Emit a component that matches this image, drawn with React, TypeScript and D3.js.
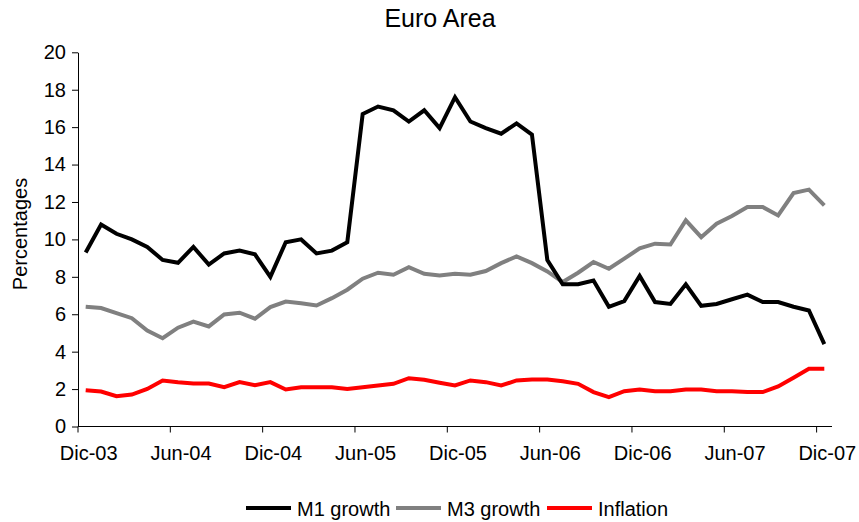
import React, { useEffect, useRef } from 'react';
import * as d3 from 'd3';

// Monthly categories Dic-03 .. Dic-07
const months = [
  'Dic-03', 'Ene-04', 'Feb-04', 'Mar-04', 'Abr-04', 'May-04', 'Jun-04', 'Jul-04', 'Ago-04', 'Sep-04', 'Oct-04', 'Nov-04',
  'Dic-04', 'Ene-05', 'Feb-05', 'Mar-05', 'Abr-05', 'May-05', 'Jun-05', 'Jul-05', 'Ago-05', 'Sep-05', 'Oct-05', 'Nov-05',
  'Dic-05', 'Ene-06', 'Feb-06', 'Mar-06', 'Abr-06', 'May-06', 'Jun-06', 'Jul-06', 'Ago-06', 'Sep-06', 'Oct-06', 'Nov-06',
  'Dic-06', 'Ene-07', 'Feb-07', 'Mar-07', 'Abr-07', 'May-07', 'Jun-07', 'Jul-07', 'Ago-07', 'Sep-07', 'Oct-07', 'Nov-07',
  'Dic-07',
];

const tickLabels = ['Dic-03', 'Jun-04', 'Dic-04', 'Jun-05', 'Dic-05', 'Jun-06', 'Dic-06', 'Jun-07', 'Dic-07'];
const yTicks = [0, 2, 4, 6, 8, 10, 12, 14, 16, 18, 20];

const m1Growth = [
  9.3, 10.8, 10.3, 10.0, 9.6, 8.9, 8.75, 9.6, 8.65, 9.25, 9.4, 9.2,
  8.0, 9.85, 10.0, 9.25, 9.4, 9.85, 16.7, 17.1, 16.9, 16.3, 16.9, 15.95,
  17.6, 16.3, 15.95, 15.65, 16.2, 15.6, 8.9, 7.6, 7.6, 7.8, 6.4, 6.7,
  8.05, 6.65, 6.55, 7.6, 6.45, 6.55, 6.8, 7.05, 6.65, 6.65, 6.4, 6.2,
  4.4,
];

const m3Growth = [
  6.4, 6.33, 6.06, 5.79, 5.13, 4.72, 5.28, 5.61, 5.35, 5.99, 6.08, 5.76,
  6.38, 6.68, 6.59, 6.47, 6.86, 7.31, 7.9, 8.22, 8.11, 8.52, 8.16, 8.07,
  8.16, 8.11, 8.31, 8.73, 9.09, 8.73, 8.29, 7.72, 8.22, 8.79, 8.43, 8.97,
  9.52, 9.77, 9.73, 11.02, 10.12, 10.84, 11.25, 11.73, 11.73, 11.28, 12.48, 12.66,
  11.82,
];

const inflation = [
  1.94, 1.87, 1.62, 1.71, 2.01, 2.46, 2.37, 2.3, 2.3, 2.1, 2.37, 2.21,
  2.37, 1.98, 2.1, 2.1, 2.1, 2.01, 2.1, 2.19, 2.28, 2.58, 2.5, 2.34,
  2.19, 2.46, 2.37, 2.19, 2.46, 2.51, 2.51, 2.42, 2.28, 1.84, 1.57, 1.89,
  1.98, 1.89, 1.89, 1.98, 1.98, 1.89, 1.89, 1.84, 1.84, 2.14, 2.6, 3.08,
  3.08,
];

const seriesNames = ['M1 growth', 'M3 growth', 'Inflation'];
const seriesColors = ['#000000', '#808080', '#ff0000'];

const FONT = '"Liberation Sans", Arial, sans-serif';

function EuroChart() {
  const ref = useRef<SVGSVGElement>(null);

  useEffect(() => {
    const svg = d3.select(ref.current);
    svg.selectAll('*').remove();

    const x = d3.scaleBand<string>().domain(months).range([78, 832]).padding(0);
    const y = d3.scaleLinear().domain([0, 20]).range([426.5, 52.3]);
    const cx = (m: string) => (x(m) as number) + x.bandwidth() / 2;

    // title
    svg.append('text')
      .attr('x', 440).attr('y', 27)
      .attr('text-anchor', 'middle')
      .attr('font-size', 25)
      .text('Euro Area');

    // y axis
    const yAxis = svg.append('g')
      .attr('transform', 'translate(78,0)')
      .call(d3.axisLeft(y).tickValues(yTicks).tickSize(6).tickPadding(6).tickSizeOuter(0));
    yAxis.select('.domain').attr('stroke', '#000');
    yAxis.selectAll('text').attr('font-size', 20).attr('font-family', FONT).attr('fill', '#000');

    svg.append('text')
      .attr('transform', 'translate(27,234) rotate(-90)')
      .attr('text-anchor', 'middle')
      .attr('font-size', 20)
      .text('Percentages');

    // x axis: ticks at category boundaries, labels at category centres
    const xg = svg.append('g');
    xg.append('line')
      .attr('x1', 78).attr('x2', 832)
      .attr('y1', y(0)).attr('y2', y(0))
      .attr('stroke', '#000');
    tickLabels.forEach((lab) => {
      const x0 = x(lab) as number;
      xg.append('line')
        .attr('x1', x0).attr('x2', x0)
        .attr('y1', y(0)).attr('y2', y(0) + 6)
        .attr('stroke', '#000');
      xg.append('text')
        .attr('x', cx(lab) + 3).attr('y', 460)
        .attr('text-anchor', 'middle')
        .attr('font-size', 20)
        .text(lab);
    });

    // lines, drawn so M1 ends on top
    const data = [m1Growth, m3Growth, inflation];
    const line = d3.line<number>()
      .x((_, i) => cx(months[i]))
      .y((d) => y(d));
    [2, 1, 0].forEach((k) => {
      svg.append('path')
        .datum(data[k])
        .attr('fill', 'none')
        .attr('stroke', seriesColors[k])
        .attr('stroke-width', 4)
        .attr('stroke-linejoin', 'miter')
        .attr('d', line);
    });

    // legend
    const legendX = [246, 396, 547];
    seriesNames.forEach((name, k) => {
      const lg = svg.append('g').attr('transform', `translate(${legendX[k]},508)`);
      lg.append('line')
        .attr('x1', 0).attr('x2', 45)
        .attr('stroke', seriesColors[k])
        .attr('stroke-width', 4);
      lg.append('text')
        .attr('x', 51).attr('y', 8)
        .attr('font-size', 20)
        .text(name);
    });
  }, []);

  return (
    <svg
      ref={ref}
      width={859}
      height={522}
      style={{ position: 'absolute', left: 0, top: 0, background: '#fff' }}
      fontFamily={FONT}
    />
  );
}

export default function App() {
  return <EuroChart />;
}
